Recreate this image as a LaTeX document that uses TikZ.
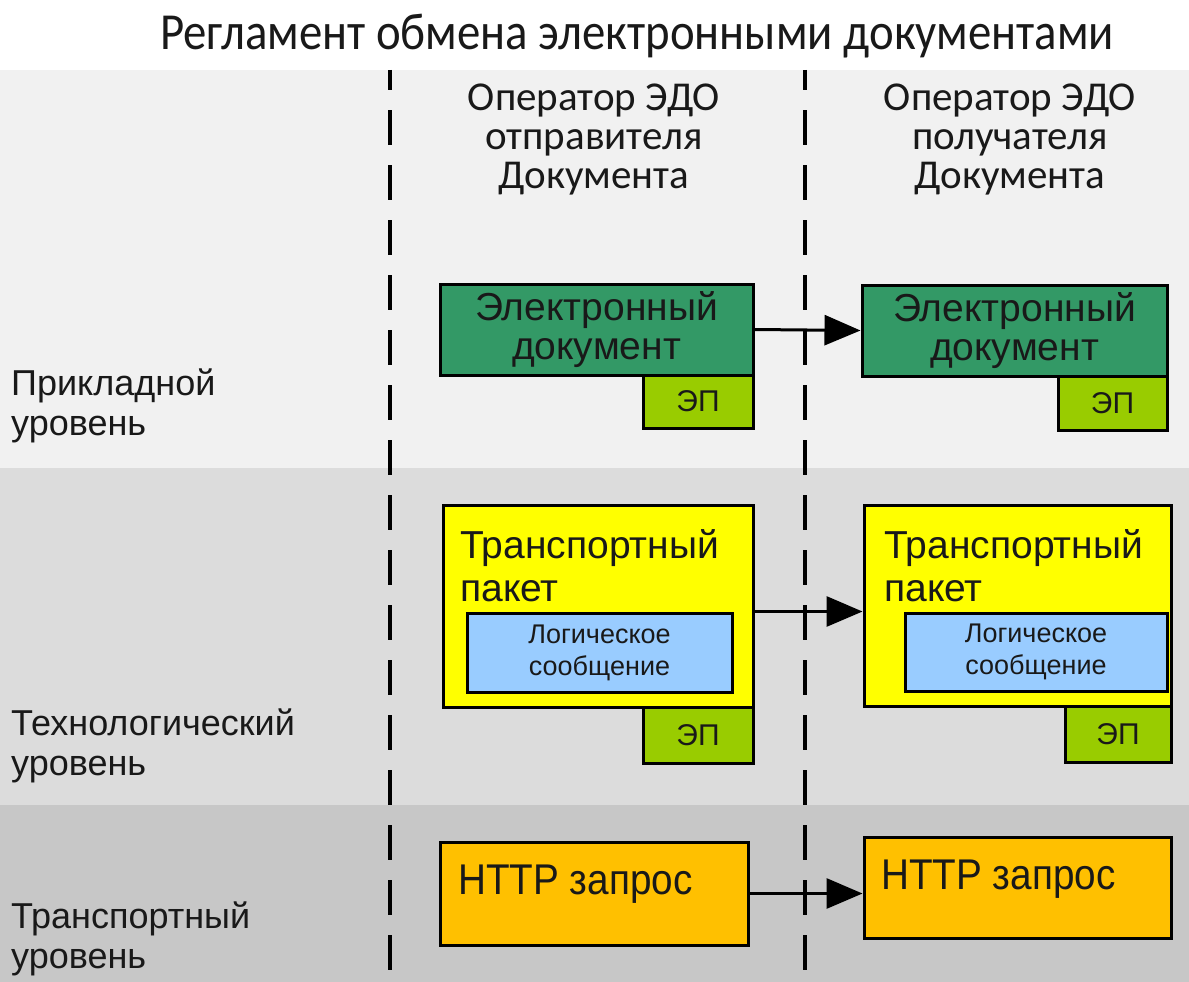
\documentclass[tikz,border=0pt]{standalone}
\usepackage{fontspec}
\setmainfont{Liberation Sans}
\newfontfamily\calib[FakeStretch=0.9]{Carlito}
\newfontfamily\calibhead{Carlito}
\newfontfamily\narrowsans[FakeStretch=0.9]{Liberation Sans}
\usetikzlibrary{arrows.meta}
\definecolor{bandA}{RGB}{241,241,241}
\definecolor{bandB}{RGB}{220,220,220}
\definecolor{bandC}{RGB}{199,199,199}
\definecolor{dgreen}{RGB}{51,153,102}
\definecolor{lgreen}{RGB}{153,204,0}
\definecolor{yel}{RGB}{255,255,0}
\definecolor{lblue}{RGB}{153,204,255}
\definecolor{orng}{RGB}{255,192,0}
\definecolor{ink}{RGB}{25,25,25}
\begin{document}
\begin{tikzpicture}[x=1pt,y=-1pt,
  box/.style={draw=black, line width=3pt, inner sep=0pt, text=ink},
  greenbox/.style={box, fill=dgreen, align=center, font=\fontsize{39}{39}\selectfont},
  epbox/.style={box, fill=lgreen, font=\fontsize{30}{32}\selectfont},
  yelbox/.style={box, fill=yel},
  bluebox/.style={box, fill=lblue, align=center, font=\fontsize{27}{32}\selectfont},
  orbox/.style={box, fill=orng},
  boxtext/.style={inner sep=0pt, text=ink, align=left},
  levellabel/.style={inner sep=0pt, anchor=west, align=left, text=ink, font=\fontsize{36}{40}\selectfont},
  header/.style={inner sep=0pt, align=center, text=ink, font=\calibhead\fontsize{41}{39}\selectfont},
  divider/.style={line width=4pt, dash pattern=on 35pt off 20pt, dash phase=15pt},
  flow/.style={line width=3pt, -{Triangle[length=36pt,width=30pt]}}]
\useasboundingbox (0,0) rectangle (1189,982);
\fill[white] (0,0) rectangle (1189,982);
\fill[bandA] (0,70) rectangle (1189,468);
\fill[bandB] (0,468) rectangle (1189,805);
\fill[bandC] (0,805) rectangle (1189,982);

% title
\node[inner sep=0pt, anchor=base, text=ink, font=\calib\fontsize{52}{56}\selectfont] (title) at (637,50) {Регламент обмена электронными документами};

% dividers
\coordinate (d1top) at (390,70);
\coordinate (d1bot) at (390,982);
\coordinate (d2top) at (805,70);
\coordinate (d2bot) at (805,982);
\draw[divider] (d1top) -- (d1bot);
\draw[divider] (d2top) -- (d2bot);

% headers
\node[header] (h1) at (594,139) {Оператор ЭДО\\отправителя\\Документа};
\node[header] (h2) at (1010,139) {Оператор ЭДО\\получателя\\Документа};

% level labels
\node[levellabel] (l1) at (11,406) {Прикладной\\уровень};
\node[levellabel] (l2) at (11,746) {Технологический\\уровень};
\node[levellabel] (l3) at (11,939) {Транспортный\\уровень};

% application level
\node[greenbox, minimum width=313pt, minimum height=91pt] (ed1) at (596.5,329.5) {Электронный\\документ};
\node[epbox, minimum width=110pt, minimum height=53pt] (ep1) at (698,401.5) {ЭП};
\node[greenbox, minimum width=305pt, minimum height=91pt] (ed2) at (1014.5,330.5) {Электронный\\документ};
\node[epbox, minimum width=109pt, minimum height=54pt] (ep2) at (1112.5,403) {ЭП};
\draw[flow] (ed1.east) -- (ed2.west);

% technological level
\node[yelbox, minimum width=310pt, minimum height=202pt] (tp1) at (598,606) {};
\node[boxtext, anchor=north west, font=\fontsize{39}{43}\selectfont] (tp1t) at (460,529) {Транспортный\\пакет};
\node[bluebox, minimum width=265pt, minimum height=79pt] (lm1) at (599.5,652.5) {Логическое\\сообщение};
\node[epbox, minimum width=110pt, minimum height=56pt] (ep3) at (698,735) {ЭП};

\node[yelbox, minimum width=307pt, minimum height=201pt] (tp2) at (1017.5,605.5) {};
\node[boxtext, anchor=north west, font=\fontsize{39}{43}\selectfont] (tp2t) at (884,529) {Транспортный\\пакет};
\node[bluebox, minimum width=262pt, minimum height=78pt] (lm2) at (1036,652) {Логическое\\сообщение};
\node[epbox, minimum width=106pt, minimum height=56pt] (ep4) at (1118,734) {ЭП};
\draw[flow] (tp1.east |- lm1.north) -- (tp2.west |- lm1.north);

% transport level
\node[orbox, minimum width=308pt, minimum height=103pt] (hr1) at (594,893.5) {};
\node[boxtext, anchor=base west, font=\narrowsans\fontsize{43}{46}\selectfont] (hr1t) at (458,894) {HTTP запрос};
\node[orbox, minimum width=307pt, minimum height=101pt] (hr2) at (1017.5,887.5) {};
\node[boxtext, anchor=base west, font=\narrowsans\fontsize{43}{46}\selectfont] (hr2t) at (881,889) {HTTP запрос};
\draw[flow] (hr1.east) -- (hr1.east -| hr2.west);
\end{tikzpicture}
\end{document}
